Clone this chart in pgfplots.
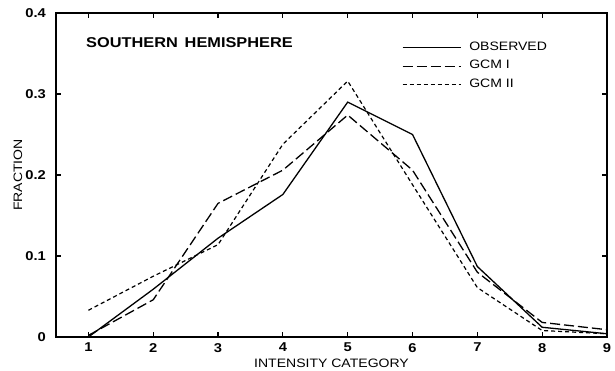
\documentclass[border=0pt]{standalone}
\usepackage{pgfplots}
\pgfplotsset{compat=1.18}
\usepackage{fontspec}
\setmainfont{Liberation Sans}[FakeStretch=1.15]
\begin{document}
\begin{tikzpicture}
\begin{axis}[
  scale only axis,
  width=275.5pt, height=162pt,
  xmin=0.5, xmax=9, ymin=0, ymax=0.4,
  xtick={1,2,3,4,5,6,7,8,9},
  xticklabels={1,2,3,4,5,6,7,8,9},
  ytick={0,0.1,0.2,0.3,0.4},
  yticklabels={0,0.1,0.2,0.3,0.4},
  /pgf/number format/assume math mode=true,
  tick align=inside,
  major tick length=2.5pt,
  tick style={line width=0.6pt, black},
  axis line style={line width=0.8pt},
  ticklabel style={font=\fontsize{6.4}{7}\selectfont\bfseries},
  xticklabel style={yshift=0.5pt},
  yticklabel style={xshift=-1.5pt},
  xlabel={INTENSITY CATEGORY},
  ylabel={FRACTION},
  xlabel style={font=\fontsize{6.1}{7}\selectfont, at={(axis description cs:0.5,0)}, anchor=center, yshift=-13pt},
  ylabel style={font=\fontsize{6.1}{7}\selectfont, at={(axis description cs:0,0.5)}, anchor=center, yshift=19pt},
  legend style={at={(axis cs:5.8,0.372)}, anchor=north west, draw=none, fill=none,
    font=\fontsize{6.1}{7}\selectfont, row sep=-0.6pt, inner sep=1pt},
  legend cell align=left,
  legend image code/.code={\draw[#1] (0cm,0cm) -- (29pt,0cm); \path (31pt,0cm);},
]
\addplot[black, line width=0.65pt] coordinates {
(1,0) (2,0.059) (3,0.122) (4,0.176) (5,0.290) (6,0.250) (7,0.087) (8,0.012) (9,0.004)};
\addlegendentry{OBSERVED}
\addplot[black, line width=0.65pt, dash pattern=on 5pt off 2pt] coordinates {
(1,0.002) (2,0.046) (3,0.165) (4,0.206) (5,0.274) (6,0.206) (7,0.080) (8,0.018) (9,0.009)};
\addlegendentry{GCM I}
\addplot[black, line width=0.6pt, dash pattern=on 2pt off 1.5pt] coordinates {
(1,0.033) (2,0.075) (3,0.114) (4,0.238) (5,0.316) (6,0.188) (7,0.061) (8,0.008) (9,0.004)};
\addlegendentry{GCM II}
\node[anchor=west, font=\fontsize{7.1}{8}\selectfont\bfseries, inner sep=0pt] at (axis cs:0.96,0.363) {SOUTHERN\ \,HEMISPHERE};
\end{axis}
\pgfresetboundingbox
\path (current axis.south west) ++(-28pt,-16.5pt) rectangle ([xshift=4pt,yshift=6.5pt]current axis.north east);
\end{tikzpicture}
\end{document}
